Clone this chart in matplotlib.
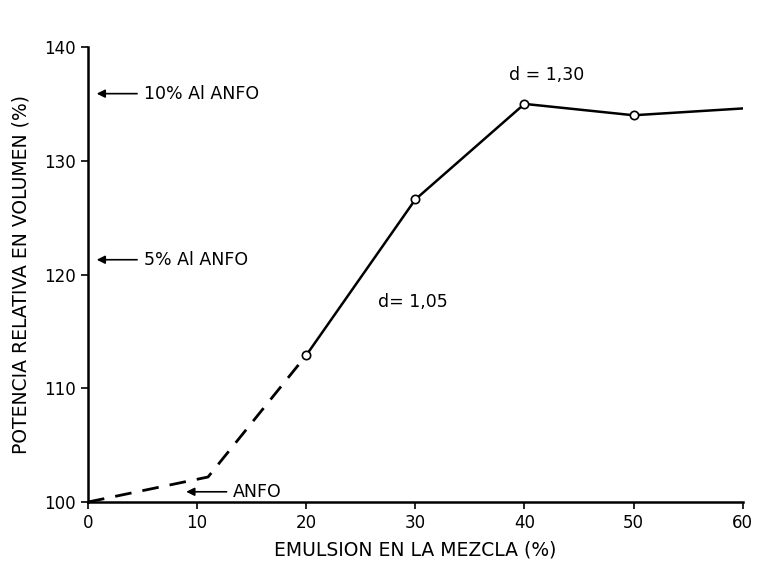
import matplotlib
matplotlib.use('Agg')
import matplotlib.pyplot as plt

# Data
x_dashed = [0, 11, 20]
y_dashed = [100, 102.2, 112.9]
x_solid = [20, 30, 40, 50, 60]
y_solid = [112.9, 126.6, 135.0, 134.0, 134.6]
x_marks = [20, 30, 40, 50]
y_marks = [112.9, 126.6, 135.0, 134.0]

x_ticks = [0, 10, 20, 30, 40, 50, 60]
y_ticks = [100, 110, 120, 130, 140]

# reference levels pointed to by arrows
ref_labels = ['10% Al ANFO', '5% Al ANFO', 'ANFO']
ref_values = [135.9, 121.3, 100.9]
ref_x = [0.5, 0.5, 8.7]

plt.rcParams['font.family'] = 'DejaVu Sans'

fig = plt.figure(figsize=(7.61, 5.63), dpi=100)
ax = fig.add_axes([0.1156, 0.1083, 0.8604, 0.8082])

ax.plot(x_dashed, y_dashed, color='black', linewidth=2, linestyle=(0, (6, 4)))
ax.plot(x_solid, y_solid, color='black', linewidth=1.8)
ax.plot(x_marks, y_marks, linestyle='none', marker='o', markersize=6,
        markerfacecolor='white', markeredgecolor='black', markeredgewidth=1.2)

for lab, yv, xv in zip(ref_labels, ref_values, ref_x):
    ax.annotate('', xy=(xv + 0.3, yv), xytext=(xv + 4.0, yv),
                arrowprops=dict(arrowstyle='-|>', color='black', lw=1.2,
                                mutation_scale=12, shrinkA=0, shrinkB=0))
    ax.text(xv + 4.6, yv, lab, fontsize=12.5, va='center', ha='left')

ax.text(42.0, 137.5, 'd = 1,30', fontsize=12.5, ha='center', va='center')
ax.text(29.8, 117.6, 'd= 1,05', fontsize=12.5, ha='center', va='center')

ax.set_xlim(0, 60)
ax.set_ylim(100, 140)
ax.set_xticks(x_ticks)
ax.set_yticks(y_ticks)
ax.tick_params(direction='out', length=5, width=1.2, labelsize=12)
for side in ['top', 'right']:
    ax.spines[side].set_visible(False)
for side in ['left', 'bottom']:
    ax.spines[side].set_linewidth(1.8)

ax.set_xlabel('EMULSION EN LA MEZCLA (%)', fontsize=13.5, labelpad=6)
ax.set_ylabel('POTENCIA RELATIVA EN VOLUMEN (%)', fontsize=13.5, labelpad=10)

fig.savefig('out.png', dpi=100)
